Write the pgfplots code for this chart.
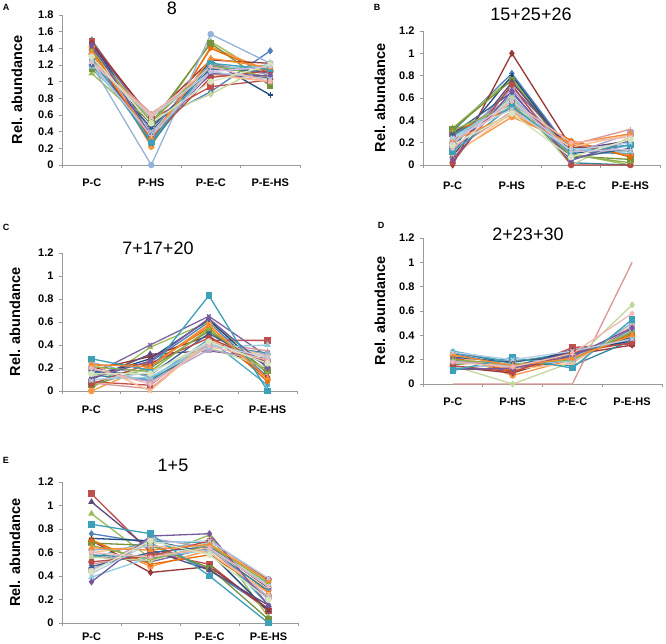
\documentclass[border=0pt]{standalone}
\usepackage{fontspec}
\setmainfont{Liberation Sans}
\usepackage{pgfplots}
\pgfplotsset{compat=1.18}

\definecolor{c1}{HTML}{4F81BD}\definecolor{c2}{HTML}{C0504D}\definecolor{c3}{HTML}{9BBB59}
\definecolor{c4}{HTML}{8064A2}\definecolor{c5}{HTML}{4BACC6}\definecolor{c6}{HTML}{F79646}
\definecolor{c7}{HTML}{1F497D}\definecolor{c8}{HTML}{953735}\definecolor{c9}{HTML}{76923C}
\definecolor{c10}{HTML}{5F497A}\definecolor{c11}{HTML}{31859C}\definecolor{c12}{HTML}{E46C0A}
\definecolor{c13}{HTML}{95B3D7}\definecolor{c14}{HTML}{D99694}\definecolor{c15}{HTML}{C3D69B}
\definecolor{c16}{HTML}{B3A2C7}\definecolor{c17}{HTML}{93CDDD}\definecolor{c18}{HTML}{FAC090}
\definecolor{c19}{HTML}{376092}\definecolor{c20}{HTML}{B84B48}\definecolor{c21}{HTML}{8EB04A}
\definecolor{c22}{HTML}{7558A0}\definecolor{c23}{HTML}{3CA0B8}\definecolor{c24}{HTML}{F58A30}
\definecolor{c25}{HTML}{B9CDE5}\definecolor{c26}{HTML}{F2B8B6}\definecolor{c27}{HTML}{D7E4BD}
\definecolor{c28}{HTML}{CCC1DA}
\definecolor{axgray}{HTML}{9A9A9A}

\pgfplotscreateplotcyclelist{excel}{
{c1,mark=diamond*},{c2,mark=square*},{c3,mark=triangle*},{c4,mark=x},{c5,mark=asterisk},{c6,mark=*},{c7,mark=+},
{c8,mark=diamond*},{c9,mark=square*},{c10,mark=triangle*},{c11,mark=x},{c12,mark=asterisk},{c13,mark=*},{c14,mark=+},
{c15,mark=diamond*},{c16,mark=square*},{c17,mark=triangle*},{c18,mark=x},{c19,mark=asterisk},{c20,mark=*},{c21,mark=+},
{c22,mark=diamond*},{c23,mark=square*},{c24,mark=triangle*},{c25,mark=x},{c26,mark=asterisk},{c27,mark=*},{c28,mark=+}}

\newcommand\ser[4]{\addplot coordinates {(0,#1)(1,#2)(2,#3)(3,#4)};}

\pgfplotsset{
  panel/.style={
    scale only axis, anchor=south west, clip=false,
    axis x line=bottom, axis y line=left,
    axis line style={draw=axgray, line width=0.7pt, -},
    xmin=-0.5, xmax=3.5,
    xtick={-0.5,0.5,1.5,2.5,3.5}, xticklabels={},
    extra x ticks={0,1,2,3},
    extra x tick labels={P-C,P-HS,P-E-C,P-E-HS},
    extra x tick style={major tick length=0pt},
    tick style={draw=axgray, line width=0.6pt},
    tick align=outside, major tick length=3pt,
    ymin=0,
    tick label style={font=\fontsize{11}{13}\selectfont\bfseries},
    /pgf/number format/assume math mode=true,
    yticklabel style={anchor=east, xshift=-2pt},
    ylabel={Rel. abundance},
    title style={font=\fontsize{18}{20}\selectfont, anchor=center, at={(rel axis cs:0,1)}},
    cycle list name=excel,
    every axis plot/.append style={line width=1.3pt, mark size=2.6pt},
  },
  ylab/.style={every axis y label/.style={at={(rel axis cs:0,0.5)}, xshift=-#1, rotate=90, anchor=center,
     font=\fontsize{14.5}{16}\selectfont\bfseries}},
}

\begin{document}
\begin{tikzpicture}[x=1pt,y=1pt]
\useasboundingbox (0,0) rectangle (666,644);

% ---------- A ----------
\begin{axis}[panel, at={(62pt,479pt)}, width=238pt, height=150pt,
  ymax=1.8, ytick={0,0.2,0.4,0.6,0.8,1,1.2,1.4,1.6,1.8},
  yticklabels={0,0.2,0.4,0.6,0.8,1,1.2,1.4,1.6,1.8},
  xticklabel style={anchor=center, yshift=-18pt},
  ylab=45pt,
  title={8}, title style={xshift=110pt, yshift=1pt}]
\ser{1.50}{0.50}{0.88}{1.37}
\ser{1.48}{0.55}{0.94}{1.02}
\ser{1.10}{0.45}{1.48}{1.05}
\ser{1.45}{0.52}{1.20}{1.10}
\ser{1.30}{0.28}{1.15}{1.20}
\ser{1.42}{0.22}{1.42}{1.12}
\ser{1.47}{0.40}{1.25}{0.84}
\ser{1.46}{0.57}{1.26}{1.22}
\ser{1.15}{0.50}{1.46}{0.95}
\ser{1.40}{0.48}{1.08}{1.05}
\ser{1.35}{0.25}{1.18}{1.15}
\ser{1.38}{0.30}{1.40}{1.10}
\ser{1.20}{0.00}{1.57}{1.22}
\ser{1.28}{0.62}{1.10}{1.00}
\ser{1.25}{0.55}{0.85}{1.22}
\ser{1.32}{0.42}{1.22}{1.08}
\ser{1.18}{0.38}{1.15}{1.20}
\ser{1.25}{0.60}{1.08}{1.00}
\ser{1.20}{0.45}{1.15}{1.12}
\ser{1.33}{0.32}{1.05}{1.13}
\ser{1.38}{0.52}{1.20}{1.05}
\ser{1.44}{0.35}{1.10}{1.07}
\ser{1.27}{0.28}{1.22}{1.15}
\ser{1.35}{0.33}{1.28}{1.17}
\ser{1.24}{0.58}{1.12}{1.03}
\ser{1.23}{0.60}{1.18}{1.00}
\ser{1.30}{0.50}{1.00}{1.20}
\ser{1.22}{0.35}{1.12}{1.18}
\end{axis}

% ---------- B ----------
\begin{axis}[panel, at={(423pt,479pt)}, width=237pt, height=134pt,
  ymax=1.2, ytick={0,0.2,0.4,0.6,0.8,1,1.2}, yticklabels={0,0.2,0.4,0.6,0.8,1,1.2},
  xticklabel style={anchor=center, yshift=-21pt},
  ylab=43pt,
  title={15+25+26}, title style={xshift=108pt, yshift=11pt}]
\ser{0.30}{0.82}{0.12}{0.10}
\ser{0.28}{0.55}{0.18}{0.08}
\ser{0.33}{0.78}{0.10}{0.00}
\ser{0.12}{0.70}{0.15}{0.20}
\ser{0.27}{0.52}{0.14}{0.10}
\ser{0.10}{0.43}{0.20}{0.08}
\ser{0.15}{0.80}{0.10}{0.18}
\ser{0.00}{1.00}{0.16}{0.12}
\ser{0.32}{0.76}{0.08}{0.05}
\ser{0.08}{0.74}{0.13}{0.22}
\ser{0.26}{0.60}{0.02}{0.00}
\ser{0.30}{0.50}{0.22}{0.07}
\ser{0.22}{0.62}{0.05}{0.18}
\ser{0.13}{0.48}{0.18}{0.32}
\ser{0.20}{0.60}{0.00}{0.25}
\ser{0.18}{0.68}{0.10}{0.28}
\ser{0.25}{0.56}{0.15}{0.12}
\ser{0.08}{0.47}{0.16}{0.27}
\ser{0.28}{0.65}{0.06}{0.15}
\ser{0.02}{0.72}{0.00}{0.00}
\ser{0.31}{0.54}{0.09}{0.02}
\ser{0.05}{0.66}{0.04}{0.22}
\ser{0.12}{0.53}{0.11}{0.18}
\ser{0.22}{0.45}{0.19}{0.28}
\ser{0.24}{0.50}{0.13}{0.20}
\ser{0.15}{0.57}{0.20}{0.25}
\ser{0.18}{0.46}{0.07}{0.23}
\ser{0.20}{0.58}{0.12}{0.14}
\end{axis}

% ---------- C ----------
\begin{axis}[panel, at={(62pt,253pt)}, width=235pt, height=138pt,
  ymax=1.2, ytick={0,0.2,0.4,0.6,0.8,1,1.2}, yticklabels={0,0.2,0.4,0.6,0.8,1,1.2},
  xticklabel style={anchor=center, yshift=-19pt},
  ylab=47pt,
  title={7+17+20}, title style={xshift=96pt, yshift=-1pt}]
\ser{0.15}{0.25}{0.60}{0.12}
\ser{0.08}{0.05}{0.44}{0.44}
\ser{0.02}{0.38}{0.60}{0.22}
\ser{0.14}{0.40}{0.65}{0.30}
\ser{0.16}{0.10}{0.45}{0.05}
\ser{0.00}{0.22}{0.58}{0.10}
\ser{0.12}{0.28}{0.62}{0.15}
\ser{0.18}{0.30}{0.48}{0.12}
\ser{0.05}{0.20}{0.52}{0.18}
\ser{0.10}{0.32}{0.35}{0.28}
\ser{0.14}{0.09}{0.40}{0.33}
\ser{0.22}{0.23}{0.55}{0.08}
\ser{0.25}{0.12}{0.40}{0.32}
\ser{0.07}{0.02}{0.42}{0.35}
\ser{0.13}{0.18}{0.38}{0.20}
\ser{0.19}{0.08}{0.36}{0.26}
\ser{0.10}{0.12}{0.38}{0.40}
\ser{0.24}{0.00}{0.44}{0.30}
\ser{0.17}{0.14}{0.50}{0.22}
\ser{0.06}{0.24}{0.46}{0.25}
\ser{0.21}{0.17}{0.54}{0.16}
\ser{0.11}{0.26}{0.63}{0.20}
\ser{0.28}{0.18}{0.83}{0.00}
\ser{0.23}{0.21}{0.57}{0.11}
\ser{0.09}{0.16}{0.41}{0.29}
\ser{0.20}{0.06}{0.39}{0.27}
\ser{0.15}{0.15}{0.43}{0.24}
\end{axis}

% ---------- D ----------
\begin{axis}[panel, at={(423pt,260pt)}, width=239pt, height=146pt,
  ymax=1.2, ytick={0,0.2,0.4,0.6,0.8,1,1.2}, yticklabels={0,0.2,0.4,0.6,0.8,1,1.2},
  xticklabel style={anchor=center, yshift=-18pt},
  ylab=43pt,
  title={2+23+30}, title style={xshift=105pt, yshift=-2pt}]
\ser{0.25}{0.15}{0.25}{0.36}
\ser{0.22}{0.10}{0.30}{0.33}
\ser{0.18}{0.16}{0.22}{0.40}
\ser{0.13}{0.12}{0.20}{0.45}
\ser{0.27}{0.18}{0.26}{0.38}
\ser{0.24}{0.07}{0.20}{0.40}
\ser{0.20}{0.14}{0.28}{0.35}
\ser{0.14}{0.09}{0.24}{0.32}
\ser{0.16}{0.19}{0.23}{0.42}
\ser{0.12}{0.13}{0.27}{0.37}
\ser{0.26}{0.17}{0.15}{0.36}
\ser{0.21}{0.11}{0.22}{0.41}
\ser{0.17}{0.20}{0.18}{0.50}
\addplot+[mark=none] coordinates {(0,0)(1,0)(2,0)(3,1.0)};
\ser{0.15}{0.00}{0.18}{0.65}
\ser{0.19}{0.15}{0.21}{0.47}
\ser{0.13}{0.16}{0.19}{0.44}
\ser{0.23}{0.12}{0.17}{0.48}
\ser{0.22}{0.18}{0.24}{0.39}
\ser{0.15}{0.10}{0.26}{0.34}
\ser{0.20}{0.16}{0.20}{0.43}
\ser{0.12}{0.13}{0.23}{0.46}
\ser{0.11}{0.22}{0.13}{0.53}
\ser{0.24}{0.15}{0.21}{0.40}
\ser{0.26}{0.20}{0.27}{0.37}
\ser{0.18}{0.14}{0.25}{0.58}
\end{axis}

% ---------- E ----------
\begin{axis}[panel, at={(62pt,21pt)}, width=236pt, height=141pt,
  ymax=1.2, ytick={0,0.2,0.4,0.6,0.8,1,1.2}, yticklabels={0,0.2,0.4,0.6,0.8,1,1.2},
  xticklabel style={anchor=center, yshift=-14pt},
  ylab=47pt,
  title={1+5}, title style={xshift=111pt, yshift=11pt}]
\ser{0.76}{0.68}{0.45}{0.12}
\ser{1.10}{0.60}{0.50}{0.10}
\ser{0.93}{0.55}{0.75}{0.05}
\ser{0.57}{0.52}{0.64}{0.20}
\ser{0.55}{0.70}{0.68}{0.15}
\ser{0.71}{0.48}{0.62}{0.28}
\ser{0.72}{0.70}{0.60}{0.10}
\ser{0.70}{0.43}{0.48}{0.12}
\ser{0.68}{0.66}{0.47}{0.03}
\ser{1.03}{0.62}{0.45}{0.15}
\ser{0.58}{0.55}{0.63}{0.27}
\ser{0.70}{0.50}{0.58}{0.26}
\ser{0.62}{0.65}{0.66}{0.30}
\ser{0.50}{0.58}{0.62}{0.33}
\ser{0.56}{0.53}{0.68}{0.35}
\ser{0.45}{0.72}{0.64}{0.22}
\ser{0.39}{0.56}{0.62}{0.33}
\ser{0.60}{0.66}{0.60}{0.25}
\ser{0.48}{0.60}{0.65}{0.30}
\ser{0.52}{0.57}{0.70}{0.37}
\ser{0.66}{0.54}{0.66}{0.34}
\ser{0.35}{0.74}{0.76}{0.15}
\ser{0.84}{0.76}{0.40}{0.00}
\ser{0.64}{0.62}{0.67}{0.36}
\ser{0.42}{0.68}{0.70}{0.38}
\ser{0.60}{0.56}{0.64}{0.31}
\ser{0.44}{0.70}{0.58}{0.20}
\end{axis}

% panel letters
\node[font=\fontsize{9}{10}\selectfont\bfseries] at (6,637) {A};
\node[font=\fontsize{9}{10}\selectfont\bfseries] at (377,637) {B};
\node[font=\fontsize{9}{10}\selectfont\bfseries] at (6,417) {C};
\node[font=\fontsize{9}{10}\selectfont\bfseries] at (381,419) {D};
\node[font=\fontsize{9}{10}\selectfont\bfseries] at (6,184) {E};
\end{tikzpicture}
\end{document}
